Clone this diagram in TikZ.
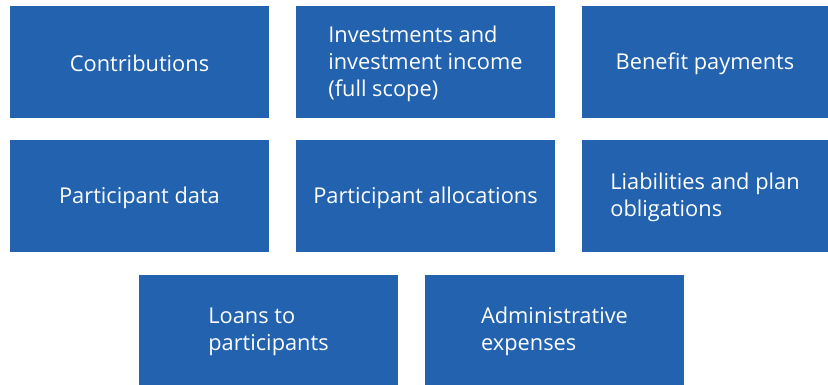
\documentclass[tikz,border=0pt]{standalone}
\usepackage{fontspec}
\setmainfont{Open Sans}
\definecolor{boxblue}{HTML}{2262AE}
\begin{document}
\begin{tikzpicture}[x=1pt,y=-1pt,
  box/.style={fill=boxblue, draw=none, inner sep=0pt, text=white, align=left,
    font=\fontsize{21.8}{27}\selectfont}]
\useasboundingbox (0,0) rectangle (828,385);
\newcommand{\bx}[6]{%
  \fill[boxblue] (#2,#3) rectangle (#4,#5);
  \node[box, fill=none] (#1) at ({(#2+#4)/2},{(#3+#5)/2+1.5}) {#6};}
\bx{contrib}{10}{6}{269}{118}{Contributions}
\bx{invest}{296}{6}{555}{118}{Investments and\\investment income\\(full scope)}
\bx{benefit}{582}{6}{828}{118}{Benefit payments}
\bx{pdata}{10}{140}{269}{252}{Participant data}
\bx{palloc}{296}{140}{555}{252}{Participant allocations}
\bx{liab}{582}{140}{828}{252}{Liabilities and plan\\obligations}
\bx{loans}{139}{275}{398}{385}{Loans to\\participants}
\bx{admin}{425}{275}{684}{385}{Administrative\\expenses}
\end{tikzpicture}
\end{document}
